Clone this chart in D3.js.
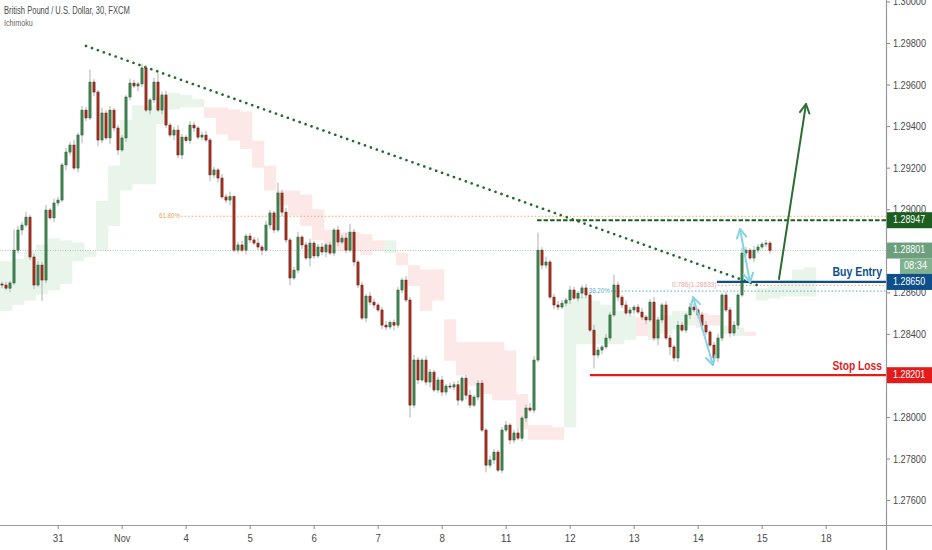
<!DOCTYPE html>
<html><head><meta charset="utf-8">
<script src="https://cdn.jsdelivr.net/npm/d3@7/dist/d3.min.js"></script>
<style>
html,body{margin:0;padding:0;background:#fff;}
svg{display:block;font-family:"Liberation Sans","Arial",sans-serif;}
</style></head>
<body><svg id="c" width="932" height="550"></svg>
<script>
// ---------------- DATA ----------------
const dayLabels = ["31","Nov","4","5","6","7","8","11","12","13","14","15","18"];
const priceTicks = [1.276,1.278,1.280,1.284,1.286,1.290,1.292,1.294,1.296,1.298,1.300];
const firstOpen = 1.28640;
const closes = [
1.28635,1.28620,1.28645,1.28803,1.28900,1.28924,1.28962,1.28770,1.28635,1.28731,
1.28659,1.28996,1.28958,1.29030,1.29044,1.29213,1.29275,1.29309,1.29198,1.29357,
1.29477,1.29439,1.29612,1.29564,1.29333,1.29463,1.29343,1.29477,1.29391,1.29285,
1.29343,1.29540,1.29607,1.29593,1.29603,1.29680,1.29477,1.29526,1.29612,1.29477,
1.29550,1.29405,1.29357,1.29381,1.29261,1.29347,1.29330,1.29405,1.29391,1.29347,
1.29357,1.29333,1.29165,1.29189,1.29150,1.29059,1.29044,1.29060,1.28803,1.28828,
1.28803,1.28871,1.28852,1.28837,1.28818,1.28803,1.28924,1.28982,1.28900,1.29078,
1.28986,1.28852,1.28669,1.28707,1.28866,1.28828,1.28765,1.28837,1.28775,1.28818,
1.28794,1.28828,1.28789,1.28900,1.28842,1.28861,1.28803,1.28890,1.28746,1.28635,
1.28476,1.28582,1.28553,1.28539,1.28515,1.28442,1.28433,1.28455,1.28442,1.28611,
1.28659,1.28563,1.28057,1.28274,1.28178,1.28274,1.28168,1.28216,1.28130,1.28178,
1.28120,1.28149,1.28144,1.28155,1.28081,1.28187,1.28105,1.28057,1.28096,1.28163,
1.27937,1.27768,1.27793,1.27831,1.27744,1.27937,1.27961,1.27889,1.27923,1.27898,
1.27995,1.28043,1.28033,1.28274,1.28803,1.28731,1.28746,1.28577,1.28539,1.28529,
1.28548,1.28563,1.28611,1.28572,1.28596,1.28621,1.28587,1.28418,1.28298,1.28322,
1.28337,1.28380,1.28491,1.28635,1.28577,1.28539,1.28500,1.28515,1.28529,1.28505,
1.28481,1.28467,1.28553,1.28380,1.28467,1.28539,1.28380,1.28337,1.28284,1.28442,
1.28418,1.28491,1.28529,1.28515,1.28491,1.28442,1.28409,1.28346,1.28284,1.28380,
1.28587,1.28515,1.28404,1.28442,1.28587,1.28789,1.28803,1.28765,1.28803,1.28818,
1.28832,1.28837,1.28801];
// wick extensions beyond the body, in half-pips
const wickUp = [
2,3,2,20,4,3,5,2,3,4, 3,5,2,4,3,2,4,3,5,2, 4,3,12,3,2,5,3,4,2,3, 3,2,4,3,2,4,3,2,4,9,
3,4,2,3,5,3,2,4,3,2, 3,4,2,3,2,4,3,5,2,3, 4,2,3,3,5,2,4,3,2,10, 3,4,2,3,5,2,3,4,2,3,
4,2,3,2,4,3,5,8,3,2, 3,2,4,3,2,3,4,2,3,3, 2,4,3,5,3,2,4,3,2,3, 4,2,3,3,4,2,3,5,2,3,
3,2,4,3,2,3,4,2,3,4, 2,3,5,4,17,3,5,2,3,4, 3,2,4,3,2,3,4,2,5,3, 2,4,3,10,3,2,4,3,2,3,
4,2,3,5,3,2,4,3,2,4, 3,2,4,3,2,3,4,2,3,4, 2,3,3,4,2,5,3,2,4,3, 2,3,2];
const wickDn = [
3,2,4,2,3,5,2,3,4,2, 20,3,2,4,3,2,5,3,2,4, 8,3,2,4,6,3,2,6,3,5, 2,4,3,2,5,3,2,4,3,2,
4,3,2,5,3,4,2,3,4,2, 3,2,6,3,4,2,3,5,2,3, 2,4,3,2,3,5,2,4,3,2, 4,3,7,2,3,4,2,8,3,2,
3,5,2,3,4,2,3,2,4,3, 2,4,3,3,2,4,3,2,5,3, 3,2,12,3,4,2,3,5,2,3, 4,3,2,3,5,2,4,3,2,3,
2,7,3,4,2,3,2,4,3,2, 3,4,2,3,2,4,3,2,4,3, 2,3,4,2,3,5,3,2,13,3, 4,2,3,2,4,3,2,3,4,2,
3,4,2,3,7,3,2,8,3,4, 2,3,4,2,3,5,3,2,3,4, 3,2,4,3,4,2,3,2,4,3, 2,3,3];
// Ichimoku cloud (leading spans), one point every 3 bars
const spanA = [
1.2875,1.2876,1.2880,1.2883,1.2886,1.2885,1.2884,1.2880,1.2904,1.2921,
1.2943,1.2950,1.2950,1.2954,1.2956,1.2955,1.2953,1.2944,1.2936,1.2933,
1.2929,1.2920,1.2909,1.2902,1.2897,1.2892,1.2885,1.2883,1.2880,1.2880,
1.2878,1.2880,1.2885,1.2873,1.2863,1.2851,1.2856,1.2827,1.2820,1.2815,
1.2811,1.2808,1.2808,1.2794,1.2789,1.2789,1.2789,1.2856,1.2858,1.2856,
1.2854,1.2851,1.2849,1.2839,1.2847,1.2849,1.2851,1.2851,1.2843,1.2844,
1.2844,1.2843,1.2839,1.2862,1.2863,1.2866,1.2871,1.2872];
const spanB = [
1.2851,1.2854,1.2856,1.2859,1.2861,1.2864,1.2875,1.2877,1.2880,1.2892,
1.2909,1.2912,1.2912,1.2941,1.2948,1.2949,1.2949,1.2949,1.2949,1.2948,
1.2947,1.2933,1.2921,1.2909,1.2909,1.2907,1.2900,1.2890,1.2889,1.2889,
1.2888,1.2885,1.2879,1.2879,1.2873,1.2871,1.2871,1.2847,1.2836,1.2836,
1.2836,1.2836,1.2832,1.2811,1.2796,1.2796,1.2795,1.2795,1.2835,1.2835,
1.2835,1.2835,1.2837,1.2848,1.2837,1.2840,1.2842,1.2844,1.2850,1.2849,
1.2840,1.2839,1.2841,1.2856,1.2857,1.2858,1.2858,1.2858];
// levels
const lastPrice = 1.28801, lastTime = "08:34";
const targetLevel = 1.28947, entryLevel = 1.28650, stopLevel = 1.28201;
const fib618 = 1.28966, fib382 = 1.28606, fib786 = 1.28633;
// drawings: [day, price]
const trendLine = [[0.442,1.29786],[10.973,1.28630]];
const targetArrow = [[11.27,1.28664],[11.692,1.29506]];
const swing1 = [[9.927,1.28577],[10.239,1.28250]];
const swing2 = [[10.661,1.28905],[10.817,1.28649]];
const levelStarts = {fib618:1.93, fib382:8.645, fib786:10.317, target:7.49, entry:10.30, stop:8.317};

// ---------------- SCALES ----------------
const W = 932, H = 550, plotR = 886, plotB = 525;
const barsPerDay = 16;
const x = d3.scaleLinear().domain([-0.9016, 12.9422]).range([0, plotR]);
const y = d3.scaleLinear().domain([1.27480, 1.30007]).range([plotB, 0]);
const firstBarDay = x.invert(2);
const barDay = i => firstBarDay + i / barsPerDay;
const cloudDay = k => firstBarDay + (3 * k - 0.5) / barsPerDay;
const narrow = (sel, perChar) => sel.each(function () {
  const t = d3.select(this); t.attr("textLength", t.text().length * perChar).attr("lengthAdjust", "spacingAndGlyphs");
});

const svg = d3.select("#c");
svg.append("rect").attr("width", W).attr("height", H).attr("fill", "#fff");
svg.append("defs").append("clipPath").attr("id", "plot")
  .append("rect").attr("x", 0).attr("y", 0).attr("width", plotR).attr("height", plotB);
const g = svg.append("g").attr("clip-path", "url(#plot)");

// cloud
const cloud = spanA.map((a, k) => ({k, a, b: spanB[k]}));
g.append("g").selectAll("rect").data(cloud).join("rect")
  .attr("x", d => x(cloudDay(d.k)))
  .attr("width", d => x(cloudDay(d.k + 1)) - x(cloudDay(d.k)) + 0.3)
  .attr("y", d => y(Math.max(d.a, d.b)))
  .attr("height", d => Math.abs(y(d.a) - y(d.b)))
  .attr("fill", d => d.a >= d.b ? "#e9f5ea" : "#fde8e8");

// horizontal level lines
function hline(price, startDay, color, width, dash) {
  const l = g.append("line")
    .attr("x1", startDay == null ? 0 : x(startDay)).attr("x2", plotR)
    .attr("y1", y(price)).attr("y2", y(price))
    .attr("stroke", color).attr("stroke-width", width);
  if (dash) l.attr("stroke-dasharray", dash);
  return l;
}
hline(lastPrice, null, "#a9cbbb", 1, "1 1.5");
hline(fib618, levelStarts.fib618, "#f0a860", 1.2, "1.5 2");
hline(fib382, levelStarts.fib382, "#6cc0cf", 1.2, "1.5 2");
hline(fib786, levelStarts.fib786, "#f5aaa4", 1.2, "1.5 2");
hline(targetLevel, levelStarts.target, "#1b5e20", 2, "4.5 2");

// trend line (dotted)
const line = d3.line().x(d => x(d[0])).y(d => y(d[1]));
g.append("path").attr("d", line(trendLine)).attr("fill", "none")
  .attr("stroke", "#1e6b2a").attr("stroke-width", 2.6)
  .attr("stroke-linecap", "round").attr("stroke-dasharray", "0.1 6.2");

// candles
const bars = closes.map((c, i) => {
  const o = i === 0 ? firstOpen : closes[i - 1];
  return {i, o, c, h: Math.max(o, c) + wickUp[i] * 0.5e-4, l: Math.min(o, c) - wickDn[i] * 0.5e-4};
});
const cg = g.append("g");
cg.selectAll("line.w").data(bars).join("line").attr("class", "w")
  .attr("x1", d => x(barDay(d.i))).attr("x2", d => x(barDay(d.i)))
  .attr("y1", d => y(d.h)).attr("y2", d => y(d.l))
  .attr("stroke", "#b0b0b0").attr("stroke-width", 1);
cg.selectAll("rect").data(bars).join("rect")
  .attr("x", d => x(barDay(d.i)) - 1.1).attr("width", 2.2)
  .attr("y", d => y(Math.max(d.o, d.c)))
  .attr("height", d => Math.max(1, Math.abs(y(d.o) - y(d.c))))
  .attr("fill", d => d.c >= d.o ? "#3f8a52" : "#b0301f")
  .attr("stroke", d => d.c >= d.o ? "#24542f" : "#5e1a10").attr("stroke-width", 0.5);

// entry / stop lines
hline(entryLevel, levelStarts.entry, "#0d4f8b", 2.2);
hline(stopLevel, levelStarts.stop, "#e31b1b", 2.2);

// arrows
function arrow(pts, color, width, heads) {
  const p0 = [x(pts[0][0]), y(pts[0][1])], p1 = [x(pts[1][0]), y(pts[1][1])];
  g.append("line").attr("x1", p0[0]).attr("y1", p0[1]).attr("x2", p1[0]).attr("y2", p1[1])
    .attr("stroke", color).attr("stroke-width", width).attr("stroke-linecap", "round");
  const head = (tip, from) => {
    const ang = Math.atan2(tip[1] - from[1], tip[0] - from[0]);
    const L = 10, a = 0.5;
    const pA = [tip[0] - L * Math.cos(ang - a), tip[1] - L * Math.sin(ang - a)];
    const pB = [tip[0] - L * Math.cos(ang + a), tip[1] - L * Math.sin(ang + a)];
    g.append("path").attr("d", `M${pA}L${tip}L${pB}`).attr("fill", "none")
      .attr("stroke", color).attr("stroke-width", width).attr("stroke-linecap", "round").attr("stroke-linejoin", "round");
  };
  if (heads.includes("end")) head(p1, p0);
  if (heads.includes("start")) head(p0, p1);
}
arrow(targetArrow, "#2a6e32", 2, ["end"]);
arrow(swing1, "#86d3e3", 2, ["start", "end"]);
arrow(swing2, "#86d3e3", 2, ["start", "end"]);

// fib labels
const lab = (txt, day, price, color, size, anchor) => svg.append("text")
  .attr("x", x(day)).attr("y", y(price)).text(txt)
  .attr("fill", color).attr("font-size", size).attr("text-anchor", anchor || "start")
  .attr("dominant-baseline", "middle");
narrow(lab("61.80%", levelStarts.fib618 - 0.02, fib618, "#f0a050", 8, "end"), 3.5);
narrow(lab("38.20%", levelStarts.fib382 - 0.02, fib382, "#5ab4c4", 8, "end"), 3.5);
narrow(lab("0.786(1.28633)", levelStarts.fib786 - 0.02, fib786 + 0.00002, "#f4a0a0", 8, "end"), 3.2);
narrow(svg.append("text").attr("x", 882).attr("y", y(entryLevel) - 6).text("Buy Entry")
  .attr("fill", "#0d4f8b").attr("font-size", 13).attr("font-weight", "bold").attr("text-anchor", "end"), 5.5);
narrow(svg.append("text").attr("x", 882).attr("y", y(stopLevel) - 5).text("Stop Loss")
  .attr("fill", "#e31b1b").attr("font-size", 13).attr("font-weight", "bold").attr("text-anchor", "end"), 5.5);

// axes
const yAxis = d3.axisRight(y).tickValues(priceTicks).tickFormat(d3.format(".5f")).tickSize(4).tickSizeOuter(0);
const ya = svg.append("g").attr("transform", `translate(${plotR},0)`).call(yAxis);
ya.select(".domain").remove();
ya.selectAll("line").attr("stroke", "#888");
ya.selectAll("text").attr("fill", "#4a4a4a").attr("font-size", 11).attr("x", 7)
  .attr("textLength", 33).attr("lengthAdjust", "spacingAndGlyphs");
svg.append("line").attr("x1", plotR + 0.5).attr("x2", plotR + 0.5).attr("y1", 0).attr("y2", H).attr("stroke", "#999").attr("stroke-width", 1.2);

const xAxis = d3.axisBottom(x).tickValues(d3.range(dayLabels.length)).tickFormat(i => dayLabels[i]).tickSize(4).tickSizeOuter(0);
const xa = svg.append("g").attr("transform", `translate(0,${plotB})`).call(xAxis);
xa.select(".domain").remove();
xa.selectAll("line").attr("stroke", "#888");
narrow(xa.selectAll("text").attr("fill", "#4a4a4a").attr("font-size", 11).attr("dy", "0.95em"), 5.4);
svg.append("line").attr("x1", 0).attr("x2", W).attr("y1", plotB + 0.5).attr("y2", plotB + 0.5).attr("stroke", "#999").attr("stroke-width", 1.2);

// price labels on axis
function tag(price, txt, fill, x0, w, dy, pad) {
  const yy = y(price) + (dy || 0);
  svg.append("rect").attr("x", x0).attr("y", yy - 8).attr("width", w).attr("height", 16).attr("fill", fill);
  const t = svg.append("text").attr("x", x0 + (pad || 6)).attr("y", yy).attr("dominant-baseline", "middle")
    .attr("fill", "#fff").attr("font-size", 11).text(txt);
  narrow(t, 4.6);
}
tag(targetLevel, d3.format(".5f")(targetLevel), "#1b5e20", plotR + 1, W - plotR);
tag(lastPrice, d3.format(".5f")(lastPrice), "#6c9f7d", plotR + 1, W - plotR);
tag(lastPrice, lastTime, "#80b28f", 900, W - 900, 16, 4);
tag(entryLevel, d3.format(".5f")(entryLevel), "#0d4f8b", plotR + 1, W - plotR);
tag(stopLevel, d3.format(".5f")(stopLevel), "#e31b1b", plotR + 1, W - plotR);

// title
narrow(svg.append("text").attr("x", 4).attr("y", 14).text("British Pound / U.S. Dollar, 30, FXCM")
  .attr("fill", "#4a4a4a").attr("font-size", 10), 3.4);
narrow(svg.append("text").attr("x", 4).attr("y", 26).text("Ichimoku")
  .attr("fill", "#666").attr("font-size", 9.5), 3.6);
</script></body></html>
